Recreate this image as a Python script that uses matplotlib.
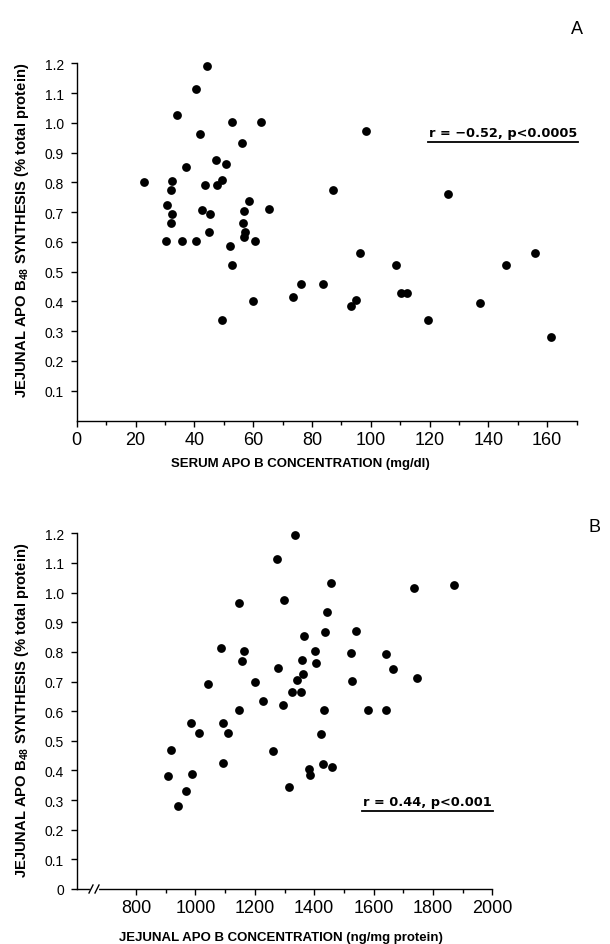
import matplotlib
matplotlib.use("Agg")
import matplotlib.pyplot as plt
from matplotlib.ticker import FixedLocator, FuncFormatter
from matplotlib.lines import Line2D

# ---------------- data ----------------
# Panel A: serum apo B (mg/dl) vs jejunal apo B48 synthesis (% total protein)
serum_apob = [44.3, 40.6, 34.2, 52.8, 62.8, 41.8, 56.1, 47.5, 50.7, 37.3,
              23.0, 32.5, 32.2, 43.7, 47.8, 49.4, 87.1, 58.5, 30.8, 32.5,
              32.2, 42.7, 45.2, 56.9, 65.4, 56.5, 45.0, 57.3, 56.9, 30.4,
              35.8, 40.6, 60.6, 52.2, 52.8, 76.4, 83.7, 73.5, 59.9, 49.3,
              98.4, 126.2, 96.3, 108.5, 145.9, 155.9, 94.9, 93.2, 110.3, 112.2,
              137.2, 119.6, 161.2]
synth_a = [1.19, 1.114, 1.027, 1.004, 1.004, 0.962, 0.932, 0.875, 0.863, 0.851,
           0.800, 0.806, 0.774, 0.792, 0.790, 0.808, 0.774, 0.738, 0.724, 0.694,
           0.663, 0.707, 0.695, 0.704, 0.711, 0.663, 0.633, 0.634, 0.617, 0.603,
           0.603, 0.604, 0.603, 0.587, 0.523, 0.459, 0.460, 0.414, 0.402, 0.339,
           0.972, 0.760, 0.563, 0.521, 0.522, 0.563, 0.406, 0.385, 0.427, 0.429,
           0.395, 0.338, 0.281]

# Panel B: jejunal apo B (ng/mg protein) vs jejunal apo B48 synthesis
jejunal_apob = [1334, 1275, 1457, 1148, 1298, 1443, 1436, 1365, 1087, 1162,
                1404, 1156, 1360, 1405, 1279, 1362, 1342, 1042, 1202, 1324,
                1355, 1228, 1294, 1148, 1434, 986, 1093, 1011, 1109, 1424,
                918, 1262, 1092, 1431, 1460, 1382, 1386, 909, 988, 967,
                1314, 941, 1735, 1871, 1541, 1524, 1642, 1665, 1527, 1745,
                1580, 1643]
synth_b = [1.194, 1.112, 1.033, 0.966, 0.976, 0.936, 0.867, 0.854, 0.814, 0.804,
           0.804, 0.770, 0.774, 0.763, 0.746, 0.725, 0.705, 0.692, 0.698, 0.664,
           0.665, 0.634, 0.622, 0.603, 0.603, 0.560, 0.561, 0.525, 0.525, 0.522,
           0.469, 0.465, 0.426, 0.423, 0.413, 0.404, 0.384, 0.381, 0.389, 0.331,
           0.343, 0.281, 1.016, 1.027, 0.871, 0.796, 0.792, 0.741, 0.703, 0.712,
           0.603, 0.603]

yticks_a = [0.1, 0.2, 0.3, 0.4, 0.5, 0.6, 0.7, 0.8, 0.9, 1.0, 1.1, 1.2]
yticks_b = [0.0, 0.1, 0.2, 0.3, 0.4, 0.5, 0.6, 0.7, 0.8, 0.9, 1.0, 1.1, 1.2]
xticks_a = [0, 20, 40, 60, 80, 100, 120, 140, 160]
xminor_a = [10, 30, 50, 70, 90, 110, 130, 150, 170]
xticks_b = [800, 1000, 1200, 1400, 1600, 1800, 2000]
xminor_b = [900, 1100, 1300, 1500, 1700, 1900]

ylabel = "JEJUNAL APO B$_{48}$ SYNTHESIS (% total protein)"
xlabel_a = "SERUM APO B CONCENTRATION (mg/dl)"
xlabel_b = "JEJUNAL APO B CONCENTRATION (ng/mg protein)"
stat_a = "r = \u22120.52, p<0.0005"
stat_b = "r = 0.44, p<0.001"

# ---------------- style ----------------
plt.rcParams['font.family'] = ['Liberation Sans', 'DejaVu Sans']
plt.rcParams['mathtext.fontset'] = 'custom'
plt.rcParams['mathtext.rm'] = 'Liberation Sans:bold'
plt.rcParams['mathtext.it'] = 'Liberation Sans:bold'
plt.rcParams['mathtext.bf'] = 'Liberation Sans:bold'
plt.rcParams['mathtext.default'] = 'rm'

W, H = 610, 945
fig = plt.figure(figsize=(W / 100, H / 100), dpi=100)


def box(l, t, r, b):
    return [l / W, 1 - b / H, (r - l) / W, (b - t) / H]


def fx(px):
    return px / W


def fy(py):
    return 1 - py / H


axA = fig.add_axes(box(76.7, 64.3, 576.5, 421.5))
axB = fig.add_axes(box(76.7, 534.3, 492.4, 890.0))


def yfmt(v, pos):
    return "0" if abs(v) < 1e-9 else f"{v:.1f}"


def style(ax):
    for s in ['top', 'right']:
        ax.spines[s].set_visible(False)
    for s in ['left', 'bottom']:
        ax.spines[s].set_linewidth(1.0)
    ax.tick_params(axis='y', which='major', direction='out', length=4.1,
                   width=1.0, pad=5, labelsize=10)
    ax.tick_params(axis='x', which='major', direction='out', length=4.3,
                   width=1.0, pad=3, labelsize=13)
    ax.tick_params(axis='x', which='minor', direction='out', length=2.6,
                   width=1.0)
    ax.yaxis.set_major_formatter(FuncFormatter(yfmt))


# Panel A
axA.scatter(serum_apob, synth_a, s=40, color='black', linewidths=0,
            clip_on=False, zorder=3)
axA.set_xlim(0, 170)
axA.set_ylim(0, 1.2)
axA.xaxis.set_major_locator(FixedLocator(xticks_a))
axA.xaxis.set_minor_locator(FixedLocator(xminor_a))
axA.yaxis.set_major_locator(FixedLocator(yticks_a))
style(axA)

# Panel B
axB.scatter(jejunal_apob, synth_b, s=40, color='black', linewidths=0,
            clip_on=False, zorder=3)
axB.set_xlim(600, 2000)
axB.set_ylim(0, 1.2)
axB.xaxis.set_major_locator(FixedLocator(xticks_b))
axB.xaxis.set_minor_locator(FixedLocator(xminor_b))
axB.yaxis.set_major_locator(FixedLocator(yticks_b))
style(axB)

# axis break marks on panel B x-axis
fig.add_artist(Line2D([fx(91.5), fx(96.5)], [fy(890), fy(890)], color='white',
                      lw=3, zorder=10))
for x0 in (89.0, 95.0):
    fig.add_artist(Line2D([fx(x0), fx(x0 + 4)], [fy(894), fy(886)],
                          color='black', lw=1.0, zorder=11))

# axis labels
lab_kw = dict(fontfamily='Liberation Sans', fontweight='bold', fontsize=9.5)
ylab_kw = dict(fontfamily='Liberation Sans', fontweight='bold', fontsize=10.6)
fig.text(fx(300), fy(463.5), xlabel_a, ha='center', va='center', **lab_kw)
fig.text(fx(281), fy(938), xlabel_b, ha='center', va='center', **lab_kw)
fig.text(fx(22), fy(230), ylabel, ha='center', va='center', rotation=90, **ylab_kw)
fig.text(fx(22), fy(710), ylabel, ha='center', va='center', rotation=90, **ylab_kw)

# statistics annotations (underlined)
st_kw = dict(fontfamily='DejaVu Sans', fontweight='bold', fontsize=9.3,
             ha='center', va='center')
fig.text(fx(503), fy(133), stat_a, **st_kw)
fig.add_artist(Line2D([fx(428), fx(578)], [fy(142.7), fy(142.7)], color='black', lw=1.3))
fig.text(fx(427.5), fy(802.7), stat_b, **st_kw)
fig.add_artist(Line2D([fx(362), fx(493)], [fy(811.7), fy(811.7)], color='black', lw=1.3))

# panel letters
fig.text(fx(577), fy(29), "A", ha='center', va='center', fontsize=13)
fig.text(fx(594), fy(528), "B", ha='center', va='center', fontsize=13)

fig.savefig("out.png", dpi=100)
